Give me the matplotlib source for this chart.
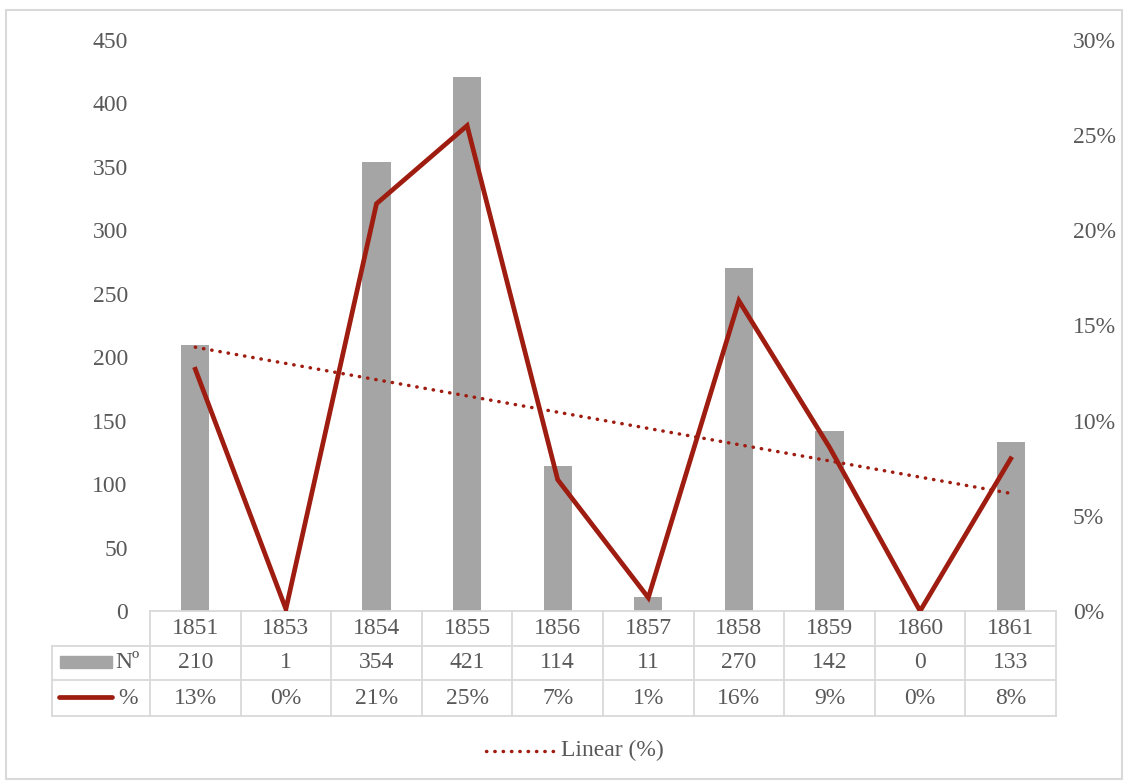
import numpy as np
import matplotlib.pyplot as plt
from matplotlib.lines import Line2D
from matplotlib.patches import Rectangle
from matplotlib.transforms import blended_transform_factory

plt.rcParams["font.family"] = ["Liberation Serif", "DejaVu Serif"]

years = ["1851", "1853", "1854", "1855", "1856", "1857", "1858", "1859", "1860", "1861"]
counts = [210, 1, 354, 421, 114, 11, 270, 142, 0, 133]
pct = [12.7, 0.1, 21.4, 25.5, 6.9, 0.7, 16.3, 8.6, 0.0, 8.0]
count_labels = ["210", "1", "354", "421", "114", "11", "270", "142", "0", "133"]
pct_labels = ["13%", "0%", "21%", "25%", "7%", "1%", "16%", "9%", "0%", "8%"]

bar_color = "#A5A5A5"
line_color = "#9E1C10"
text_color = "#595959"
grid_color = "#D9D9D9"
fs = 17

W, H = 1126, 782
fig = plt.figure(figsize=(W / 100, H / 100), dpi=100)
ax = fig.add_axes([150 / W, 1 - 611 / H, 906 / W, 571 / H])
ax2 = ax.twinx()

x = np.arange(len(years))
ax.bar(x, counts, width=0.31, color=bar_color, zorder=2)
ax.set_xlim(-0.5, len(years) - 0.5)
ax.set_ylim(0, 450)
ax.set_yticks(range(0, 451, 50))

ax2.plot(x, pct, color=line_color, lw=3.4, solid_joinstyle="miter", zorder=3)
coef = np.polyfit(x, pct, 1)
ax2.plot(x, np.polyval(coef, x), color=line_color, lw=2.5,
         linestyle=(0, (0.1, 2.3)), dash_capstyle="round", zorder=3)
ax2.set_ylim(0, 30)
ax2.set_yticks(range(0, 31, 5))
ax2.set_yticklabels([f"{v}%" for v in range(0, 31, 5)])

for a in (ax, ax2):
    for s in a.spines.values():
        s.set_visible(False)
    a.tick_params(length=0, labelsize=fs, labelcolor=text_color)
ax.tick_params(axis="y", pad=16)
ax2.tick_params(axis="y", pad=12)
ax.set_xticks([])

# data table under the axes
tr = blended_transform_factory(ax.transData, ax.transAxes)
rows_y = [(611 - p) / 571 for p in (611, 646, 680, 716)]
lw_t = 1.3
for yy in rows_y:
    ax.plot([-0.5, len(years) - 0.5], [yy, yy], transform=tr, color=grid_color,
            lw=lw_t, clip_on=False)
for i in range(len(years) + 1):
    ax.plot([i - 0.5, i - 0.5], [rows_y[0], rows_y[3]], transform=tr,
            color=grid_color, lw=lw_t, clip_on=False)
for i in range(len(years)):
    for r, labels in enumerate([years, count_labels, pct_labels]):
        ym = (rows_y[r] + rows_y[r + 1]) / 2
        ax.text(i, ym, labels[i], transform=tr, ha="center", va="center",
                fontsize=fs, color=text_color)

# row header part of table (figure pixels)
def fx(p):
    return p / W


def fy(p):
    return 1 - p / H


for p in (646, 680, 716):
    fig.add_artist(Line2D([fx(52), fx(150)], [fy(p), fy(p)], color=grid_color, lw=lw_t))
fig.add_artist(Line2D([fx(52), fx(52)], [fy(646), fy(716)], color=grid_color, lw=lw_t))
fig.add_artist(Rectangle((fx(60), fy(668)), fx(52), 12 / H, color=bar_color))
fig.text(fx(115), fy(663), "Nº", fontsize=fs, color=text_color, va="center")
fig.add_artist(Line2D([fx(59), fx(112)], [fy(697), fy(697)], color=line_color, lw=3.4,
                      solid_capstyle="round"))
fig.text(fx(118), fy(698), "%", fontsize=fs, color=text_color, va="center")

# legend
fig.add_artist(Line2D([fx(486), fx(555)], [fy(751), fy(751)], color=line_color, lw=2.5,
                      linestyle=(0, (0.1, 2.3)), dash_capstyle="round"))
fig.text(fx(561), fy(750), "Linear (%)", fontsize=fs, color=text_color, va="center")

# outer border
fig.add_artist(Rectangle((fx(6), fy(779)), fx(1116), 769 / H, fill=False,
                         edgecolor=grid_color, lw=1.5))

fig.savefig("out.png", dpi=100)
